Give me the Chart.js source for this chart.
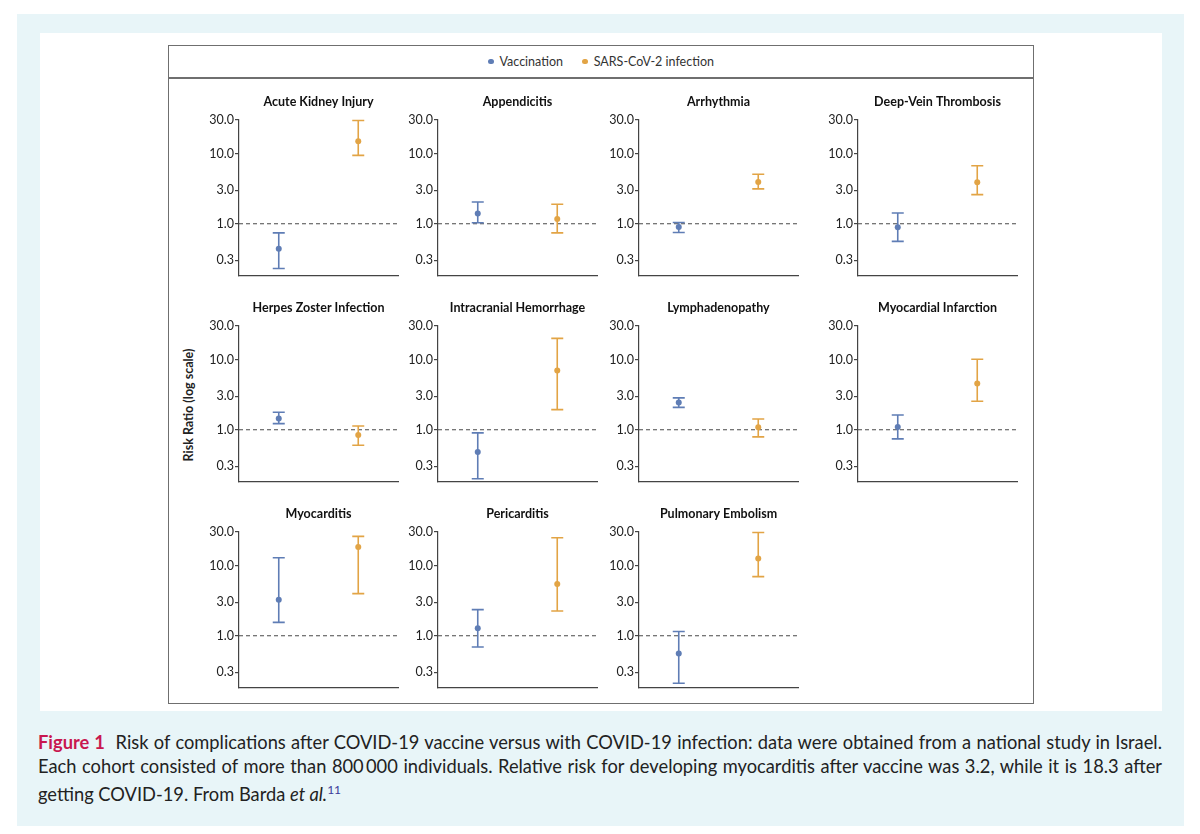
<!DOCTYPE html>
<html>
<head>
<meta charset="utf-8">
<script src="https://cdn.jsdelivr.net/npm/chart.js@4.4.1/dist/chart.umd.min.js"></script>
<style>
  body { margin: 0; background: #fff; font-family: Lato, "Noto Sans", sans-serif; }
  #page { position: relative; width: 1200px; height: 834px; overflow: hidden; }
  #bluebox { position: absolute; left: 17px; top: 14px; width: 1167px; height: 812px; background: #e8f5f8; }
  #panel { position: absolute; left: 40px; top: 33px; width: 1122px; height: 678px; background: #fff; }
  #frame { position: absolute; left: 168px; top: 45px; width: 866px; height: 659px; border: 1.5px solid #6f6f6f; box-sizing: border-box; }
  #legendline { position: absolute; left: 168px; top: 77px; width: 866px; height: 1.5px; background: #6f6f6f; }
  #legend { position: absolute; left: 168px; top: 54px; width: 866px; text-align: center; font-size: 12.5px; color: #333; }
  #legend span.dot { display: inline-block; width: 5.5px; height: 5.5px; border-radius: 50%; margin: 0 6px 2px 0; }
  #legend span.item { margin: 0 8px; }
  #ylabel { position: absolute; left: 188px; top: 405px; transform: translate(-50%, -50%) rotate(-90deg); font-size: 12.5px; font-weight: bold; color: #222; white-space: nowrap; }
  canvas { position: absolute; }
  .cap { position: absolute; left: 38px; width: 1124px; font-size: 18.3px; color: #222; line-height: 24px; text-align: justify; white-space: nowrap; }
  .cap.j { text-align-last: justify; white-space: normal; }
  .fig { color: #c8174f; font-weight: bold; }
</style>
</head>
<body>
<div id="page">
  <div id="bluebox"></div>
  <div id="panel"></div>
  <div id="frame"></div>
  <div id="legendline"></div>
  <div id="legend">
    <span class="item"><span class="dot" style="background:#5f7db5"></span>Vaccination</span>
    <span class="item"><span class="dot" style="background:#e2a445"></span>SARS-CoV-2 infection</span>
  </div>
  <div id="ylabel">Risk Ratio (log scale)</div>
  <div class="cap j" style="top:730px"><span class="fig">Figure 1</span>&nbsp; Risk of complications after COVID-19 vaccine versus with COVID-19 infection: data were obtained from a national study in Israel.</div>
  <div class="cap j" style="top:754px">Each cohort consisted of more than 800&#8201;000 individuals. Relative risk for developing myocarditis after vaccine was 3.2, while it is 18.3 after</div>
  <div class="cap" style="top:778px">getting COVID-19. From Barda <i>et al.</i><sup style="font-size:12px;color:#3b3b9a">11</sup></div>
</div>
<script>
// panel titles
const outcomes = ['Acute Kidney Injury', 'Appendicitis', 'Arrhythmia', 'Deep-Vein Thrombosis',
  'Herpes Zoster Infection', 'Intracranial Hemorrhage', 'Lymphadenopathy', 'Myocardial Infarction',
  'Myocarditis', 'Pericarditis', 'Pulmonary Embolism'];
const groups = ['Vaccination', 'SARS-CoV-2 infection'];

// risk ratios with 95% CI
const vaccineRR   = [0.44, 1.40, 0.90, 0.89, 1.45, 0.48, 2.45, 1.09, 3.24, 1.28, 0.56];
const vaccineLow  = [0.23, 1.03, 0.75, 0.56, 1.22, 0.20, 2.08, 0.74, 1.55, 0.69, 0.21];
const vaccineHigh = [0.74, 2.04, 1.04, 1.42, 1.77, 0.90, 2.84, 1.62, 12.9, 2.35, 1.15];
const infectRR    = [15.0, 1.17, 3.94, 3.89, 0.84, 7.0, 1.08, 4.55, 18.3, 5.45, 12.6];
const infectLow   = [9.4, 0.74, 3.13, 2.60, 0.60, 1.93, 0.79, 2.54, 3.98, 2.25, 6.95];
const infectHigh  = [29.5, 1.89, 5.06, 6.70, 1.13, 20.0, 1.42, 10.1, 26.0, 24.9, 29.5];

const yTicks = [0.3, 1, 3, 10, 30];

const blue = '#5f7db5';
const orange = '#e2a445';

// draws the CI whiskers and the dashed line at 1.0
const errorBars = {
  id: 'errorBars',
  beforeDatasetsDraw(chart) {
    const ctx = chart.ctx;
    const y = chart.scales.y;
    const area = chart.chartArea;
    ctx.save();
    ctx.strokeStyle = '#4a4a4a';
    ctx.lineWidth = 1.1;
    ctx.setLineDash([4, 3]);
    const y1 = y.getPixelForValue(1);
    ctx.beginPath();
    ctx.moveTo(area.left, y1);
    ctx.lineTo(area.right, y1);
    ctx.stroke();
    ctx.setLineDash([]);
    chart.data.datasets.forEach((ds, di) => {
      const meta = chart.getDatasetMeta(di);
      meta.data.forEach((pt, i) => {
        if (ds.low[i] == null) return;
        const top = y.getPixelForValue(ds.high[i]);
        const bot = y.getPixelForValue(ds.low[i]);
        ctx.strokeStyle = ds.borderColor;
        ctx.lineWidth = 1.6;
        ctx.beginPath();
        ctx.moveTo(pt.x, top); ctx.lineTo(pt.x, bot);
        ctx.moveTo(pt.x - 6, top); ctx.lineTo(pt.x + 6, top);
        ctx.moveTo(pt.x - 6, bot); ctx.lineTo(pt.x + 6, bot);
        ctx.stroke();
      });
    });
    ctx.restore();
  }
};

// title centred over the plot area
const panelTitle = {
  id: 'panelTitle',
  afterDraw(chart, args, opts) {
    const ctx = chart.ctx;
    const area = chart.chartArea;
    ctx.save();
    ctx.font = 'bold 12.5px Lato, "Noto Sans", sans-serif';
    ctx.fillStyle = '#111';
    ctx.textAlign = 'center';
    ctx.textBaseline = 'middle';
    ctx.fillText(opts.text, (area.left + area.right) / 2, area.top - 18);
    ctx.restore();
  }
};

const axisX = [239, 438, 639, 858];
const areaTop = [120, 326, 532];
const page = document.getElementById('page');

outcomes.forEach((name, i) => {
  const col = i % 4, row = Math.floor(i / 4);
  const cv = document.createElement('canvas');
  cv.width = 209; cv.height = 196;
  cv.style.left = (axisX[col] - 44) + 'px';
  cv.style.top = (areaTop[row] - 30) + 'px';
  page.appendChild(cv);

  new Chart(cv, {
    type: 'line',
    data: {
      labels: groups,
      datasets: [
        { label: groups[0], data: [vaccineRR[i], null], low: [vaccineLow[i], null], high: [vaccineHigh[i], null],
          borderColor: blue, backgroundColor: blue, pointBackgroundColor: blue, pointBorderColor: blue },
        { label: groups[1], data: [null, infectRR[i]], low: [null, infectLow[i]], high: [null, infectHigh[i]],
          borderColor: orange, backgroundColor: orange, pointBackgroundColor: orange, pointBorderColor: orange }
      ]
    },
    options: {
      responsive: false,
      animation: false,
      showLine: false,
      layout: { padding: { top: 30, left: 0, right: 6, bottom: 10 } },
      elements: { point: { radius: 3, borderWidth: 0, hoverRadius: 3 } },
      plugins: {
        legend: { display: false },
        tooltip: { enabled: false },
        panelTitle: { text: name }
      },
      scales: {
        x: {
          type: 'category',
          offset: true,
          ticks: { display: false },
          grid: { drawOnChartArea: false, drawTicks: false },
          border: { color: '#444', width: 1.2 }
        },
        y: {
          type: 'logarithmic',
          min: 0.18,
          max: 30,
          afterBuildTicks: s => { s.ticks = yTicks.map(v => ({ value: v })); },
          afterFit: s => { s.width = 44; },
          ticks: {
            callback: v => Number(v).toFixed(1),
            font: { family: 'Lato', size: 12.5 },
            color: '#222',
            padding: 1,
            autoSkip: false
          },
          grid: { drawOnChartArea: false, tickLength: 4, color: '#444', lineWidth: 1.2 },
          border: { color: '#444', width: 1.2 }
        }
      }
    },
    plugins: [errorBars, panelTitle]
  });
});
</script>
</body>
</html>
